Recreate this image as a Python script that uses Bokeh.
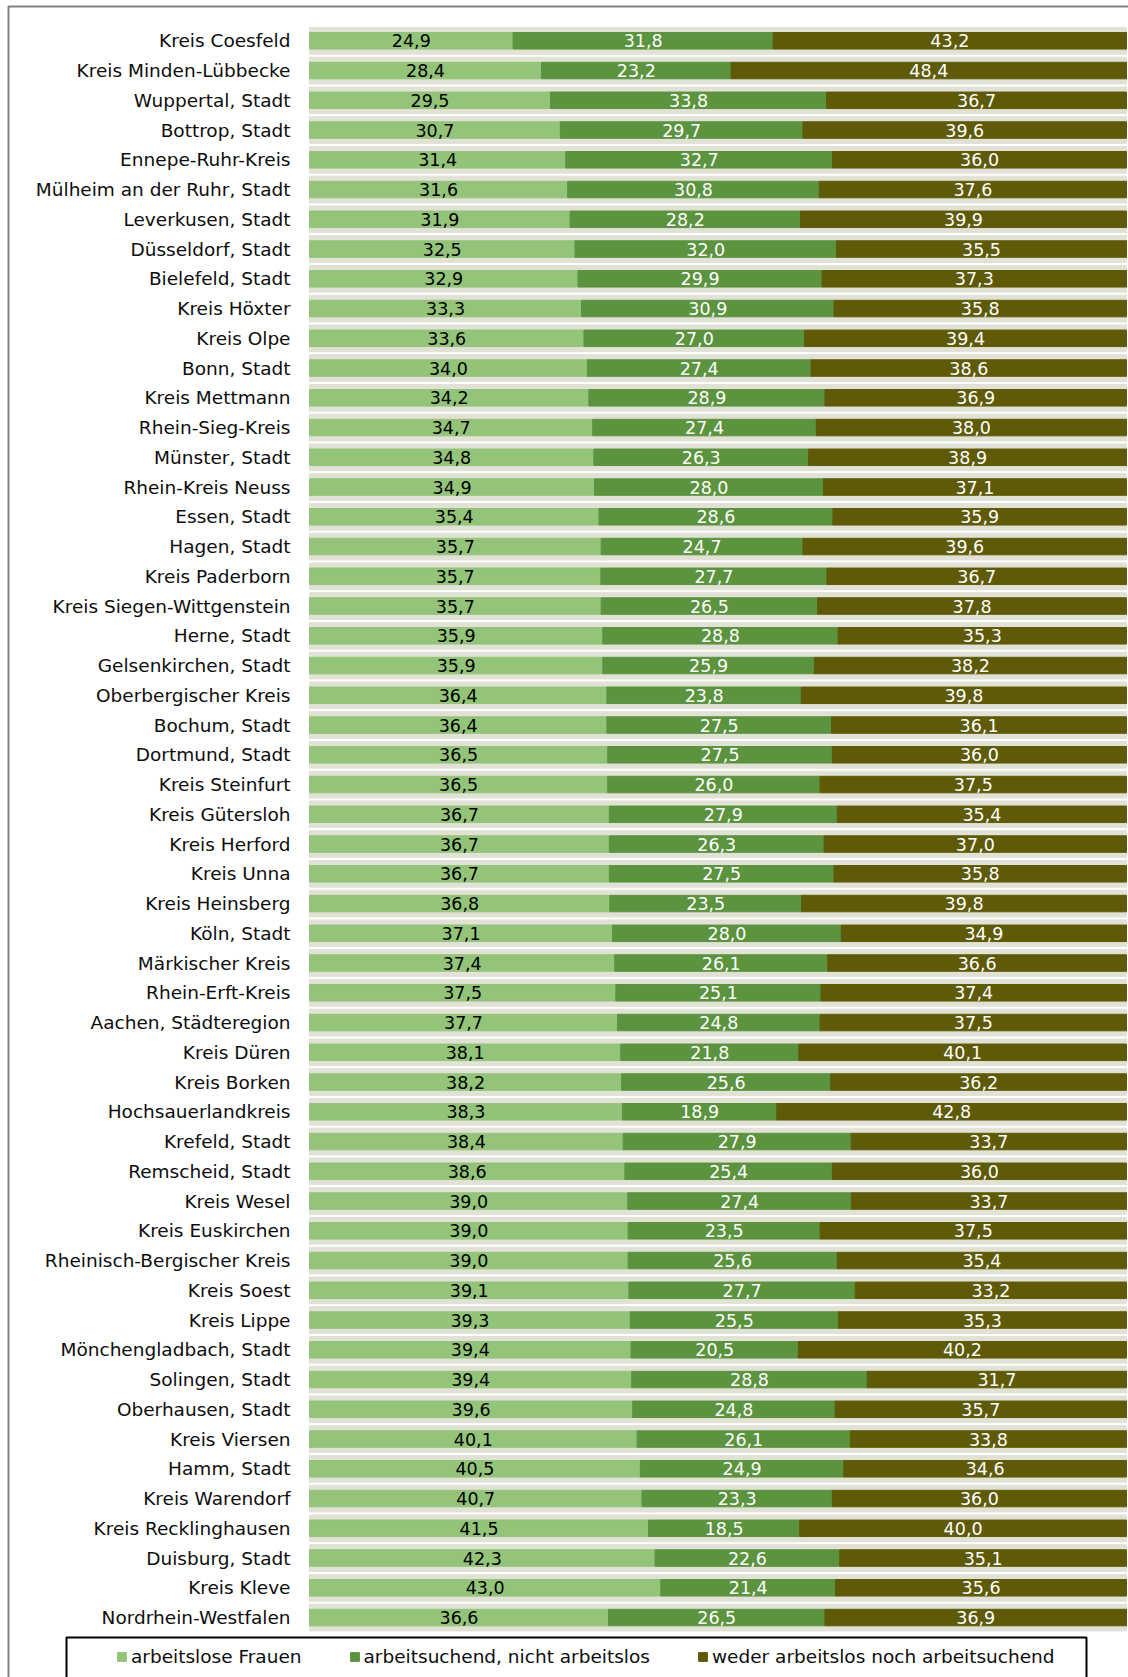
from bokeh.plotting import figure
from bokeh.models import (ColumnDataSource, Range1d, Legend, LegendItem, BoxAnnotation)
from bokeh.core.properties import value
from bokeh.embed import file_html
from bokeh.resources import INLINE

# ---------------- data ----------------
names = [
    "Kreis Coesfeld", "Kreis Minden-Lübbecke", "Wuppertal, Stadt", "Bottrop, Stadt",
    "Ennepe-Ruhr-Kreis", "Mülheim an der Ruhr, Stadt", "Leverkusen, Stadt", "Düsseldorf, Stadt",
    "Bielefeld, Stadt", "Kreis Höxter", "Kreis Olpe", "Bonn, Stadt", "Kreis Mettmann",
    "Rhein-Sieg-Kreis", "Münster, Stadt", "Rhein-Kreis Neuss", "Essen, Stadt", "Hagen, Stadt",
    "Kreis Paderborn", "Kreis Siegen-Wittgenstein", "Herne, Stadt", "Gelsenkirchen, Stadt",
    "Oberbergischer Kreis", "Bochum, Stadt", "Dortmund, Stadt", "Kreis Steinfurt",
    "Kreis Gütersloh", "Kreis Herford", "Kreis Unna", "Kreis Heinsberg", "Köln, Stadt",
    "Märkischer Kreis", "Rhein-Erft-Kreis", "Aachen, Städteregion", "Kreis Düren",
    "Kreis Borken", "Hochsauerlandkreis", "Krefeld, Stadt", "Remscheid, Stadt", "Kreis Wesel",
    "Kreis Euskirchen", "Rheinisch-Bergischer Kreis", "Kreis Soest", "Kreis Lippe",
    "Mönchengladbach, Stadt", "Solingen, Stadt", "Oberhausen, Stadt", "Kreis Viersen",
    "Hamm, Stadt", "Kreis Warendorf", "Kreis Recklinghausen", "Duisburg, Stadt", "Kreis Kleve",
    "Nordrhein-Westfalen",
]
arbeitslos = [
    24.9, 28.4, 29.5, 30.7, 31.4, 31.6, 31.9, 32.5, 32.9, 33.3, 33.6, 34.0, 34.2, 34.7, 34.8,
    34.9, 35.4, 35.7, 35.7, 35.7, 35.9, 35.9, 36.4, 36.4, 36.5, 36.5, 36.7, 36.7, 36.7, 36.8,
    37.1, 37.4, 37.5, 37.7, 38.1, 38.2, 38.3, 38.4, 38.6, 39.0, 39.0, 39.0, 39.1, 39.3, 39.4,
    39.4, 39.6, 40.1, 40.5, 40.7, 41.5, 42.3, 43.0, 36.6,
]
arbeitsuchend = [
    31.8, 23.2, 33.8, 29.7, 32.7, 30.8, 28.2, 32.0, 29.9, 30.9, 27.0, 27.4, 28.9, 27.4, 26.3,
    28.0, 28.6, 24.7, 27.7, 26.5, 28.8, 25.9, 23.8, 27.5, 27.5, 26.0, 27.9, 26.3, 27.5, 23.5,
    28.0, 26.1, 25.1, 24.8, 21.8, 25.6, 18.9, 27.9, 25.4, 27.4, 23.5, 25.6, 27.7, 25.5, 20.5,
    28.8, 24.8, 26.1, 24.9, 23.3, 18.5, 22.6, 21.4, 26.5,
]
weder = [
    43.2, 48.4, 36.7, 39.6, 36.0, 37.6, 39.9, 35.5, 37.3, 35.8, 39.4, 38.6, 36.9, 38.0, 38.9,
    37.1, 35.9, 39.6, 36.7, 37.8, 35.3, 38.2, 39.8, 36.1, 36.0, 37.5, 35.4, 37.0, 35.8, 39.8,
    34.9, 36.6, 37.4, 37.5, 40.1, 36.2, 42.8, 33.7, 36.0, 33.7, 37.5, 35.4, 33.2, 35.3, 40.2,
    31.7, 35.7, 33.8, 34.6, 36.0, 40.0, 35.1, 35.6, 36.9,
]
series_labels = ["arbeitslose Frauen", "arbeitsuchend, nicht arbeitslos",
                 "weder arbeitslos noch arbeitsuchend"]

# ---------------- styling / layout (pixels) ----------------
C_LIGHT = "#93C47A"
C_MID = "#5B933F"
C_DARK = "#5E5A07"
C_BAND = "#E1E2D5"
FONT = "DejaVu Sans"
FS_CAT = "18.5px"
FS_VAL = "17.5px"
FS_LEG = "18.5px"

W, H = 1128, 1677
BAR_LEFT_PX, BAR_RIGHT_PX = 309, 1126      # where 0 % and 100 % sit
ROW0_PX, ROW_PITCH = 40.3, 29.75           # centre of first row, row spacing
LABEL_GAP_PX = 19

px_per_unit = (BAR_RIGHT_PX - BAR_LEFT_PX) / 100.0
x_start = -BAR_LEFT_PX / px_per_unit
x_end = 100 + (W - BAR_RIGHT_PX) / px_per_unit
y_top = -ROW0_PX / ROW_PITCH
y_bottom = (H - ROW0_PX) / ROW_PITCH
label_x = -LABEL_GAP_PX / px_per_unit

# 100 % stacked: positions are shares of each row total
rows = list(range(len(names)))
a_r, b_r = [], []
for a, b, c in zip(arbeitslos, arbeitsuchend, weder):
    t = a + b + c
    a_r.append(a / t * 100)
    b_r.append((a + b) / t * 100)

fmt = lambda v: f"{v:.1f}".replace(".", ",")

src = ColumnDataSource(dict(
    row=rows, name=names,
    zero=[0.0] * len(names), full=[100.0] * len(names),
    a1=a_r, b1=b_r,
    am=[r / 2 for r in a_r],
    bm=[(l + r) / 2 for l, r in zip(a_r, b_r)],
    cm=[(l + 100) / 2 for l in b_r],
    at=[fmt(v) for v in arbeitslos],
    bt=[fmt(v) for v in arbeitsuchend],
    ct=[fmt(v) for v in weder],
    lx=[label_x] * len(names),
))

p = figure(width=W, height=H, x_range=Range1d(x_start, x_end),
           y_range=Range1d(y_bottom, y_top), output_backend="svg",
           toolbar_location=None, x_axis_location=None, y_axis_location=None,
           min_border=0)
p.xgrid.visible = False
p.ygrid.visible = False
p.outline_line_color = None
p.background_fill_color = "white"
p.border_fill_color = "white"

# row background band
p.hbar(y="row", left="zero", right="full", height=0.9, color=C_BAND, source=src)
r1 = p.hbar(y="row", left="zero", right="a1", height=0.555, color=C_LIGHT, source=src)
r2 = p.hbar(y="row", left="a1", right="b1", height=0.555, color=C_MID, source=src)
r3 = p.hbar(y="row", left="b1", right="full", height=0.555, color=C_DARK, source=src)

# category labels
p.text(x="lx", y="row", text="name", source=src, text_align="right",
       text_baseline="middle", text_font=value(FONT), text_font_size=FS_CAT,
       text_color="#0d0d0d")

# value labels
for xcol, tcol, col in (("am", "at", "#000000"), ("bm", "bt", "#ffffff"), ("cm", "ct", "#ffffff")):
    p.text(x=xcol, y="row", text=tcol, source=src, text_align="center",
           text_baseline="middle", text_font=value(FONT), text_font_size=FS_VAL,
           text_color=col)

legend = Legend(items=[LegendItem(label=series_labels[0], renderers=[r1]),
                       LegendItem(label=series_labels[1], renderers=[r2]),
                       LegendItem(label=series_labels[2], renderers=[r3])],
                orientation="horizontal", location=(106, 0), padding=10,
                spacing=47, glyph_width=11, glyph_height=11, label_standoff=4,
                label_text_font=FONT, label_text_font_size=FS_LEG, label_height=20,
                label_text_color="#0d0d0d",
                border_line_alpha=0, background_fill_alpha=0, margin=0)
p.add_layout(legend)

# legend frame and chart-area frame (canvas units, y from top)
p.add_layout(BoxAnnotation(left=66, right=1086, top=1637, bottom=1760,
                           left_units="canvas", right_units="canvas",
                           top_units="canvas", bottom_units="canvas",
                           fill_color=None, fill_alpha=0, line_color="black",
                           line_alpha=1.0, line_width=2))
p.add_layout(BoxAnnotation(left=8, right=3000, top=6, bottom=3000,
                           left_units="canvas", right_units="canvas",
                           top_units="canvas", bottom_units="canvas",
                           fill_color=None, fill_alpha=0, line_color="#808080",
                           line_alpha=1.0, line_width=2))

open("out.html", "w").write(file_html(p, INLINE))
